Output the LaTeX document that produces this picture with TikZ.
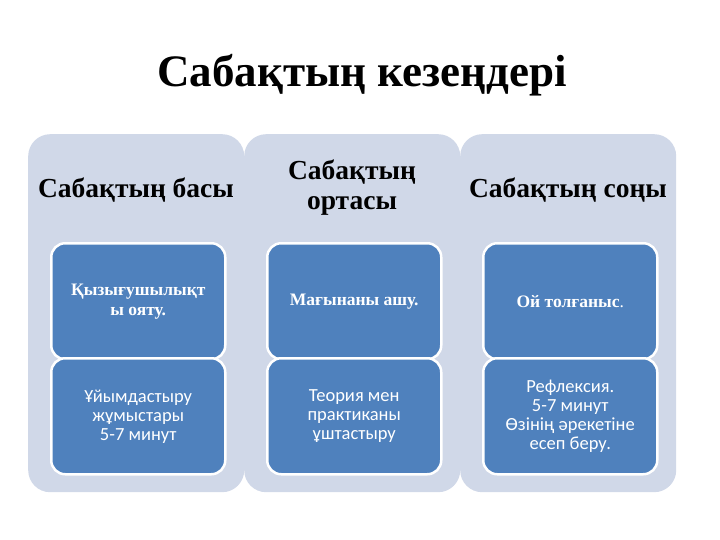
\documentclass[tikz,border=0pt]{standalone}
\usepackage{fontspec}
\setmainfont{Liberation Serif}
\newfontfamily\calfont{Carlito}
\definecolor{colbg}{RGB}{208,216,232}
\definecolor{boxblue}{RGB}{79,129,189}
\begin{document}
\begin{tikzpicture}[x=1pt,y=-1pt,
  column/.style={fill=colbg, rounded corners=22pt, minimum width=216pt, minimum height=358pt, inner sep=0pt, anchor=north west},
  stagebox/.style={fill=boxblue, draw=white, line width=2.5pt, rounded corners=14pt, minimum width=174pt, minimum height=116pt, inner sep=0pt, anchor=north west, text=white, align=center},
  upper/.style={stagebox, font=\bfseries\fontsize{17.5}{20}\selectfont},
  lower/.style={stagebox, font=\calfont\fontsize{18.5}{19}\selectfont},
  header/.style={font=\bfseries\fontsize{27.5}{30}\selectfont, inner sep=0pt, align=center},
  title/.style={font=\bfseries\fontsize{45}{54}\selectfont, inner sep=0pt}]
\useasboundingbox[fill=white] (0,0) rectangle (720,540);
\node[title, anchor=base] (title) at (362,87) {Сабақтың кезеңдері};
% columns
\node[column] (c1) at (28,134) {};
\node[column] (c2) at (244,134) {};
\node[column] (c3) at (460,134) {};
% headers
\node[header, anchor=base] (h1) at (136,198) {Сабақтың басы};
\node[header] (h2) at (352,188) {Сабақтың\\ортасы};
\node[header, anchor=base] (h3) at (568,198) {Сабақтың соңы};
% boxes
\node[upper] (u1) at (50,242) {Қызығушылықт\\ы ояту.};
\node[lower] (l1) at (50,357) {Ұйымдастыру\\жұмыстары\\5-7 минут};
\node[upper] (u2) at (266,242) {Мағынаны ашу.};
\node[lower] (l2) at (266,357) {Теория мен\\практиканы\\ұштастыру};
\node[upper] (u3) at (482,242) {Ой толғаныс{\mdseries.}};
\node[lower] (l3) at (482,357) {Рефлексия.\\5-7 минут\\Өзінің әрекетіне\\есеп беру.};
\end{tikzpicture}
\end{document}
